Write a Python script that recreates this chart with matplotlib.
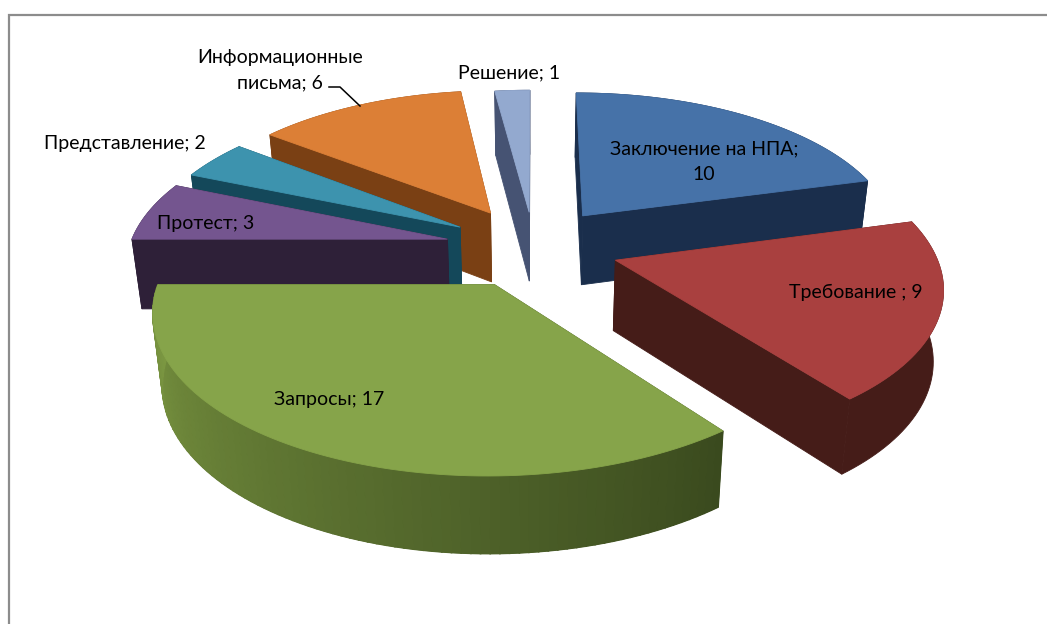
import numpy as np
import matplotlib
matplotlib.use('Agg')
import matplotlib.pyplot as plt

categories = ['Заключение на НПА', 'Требование ', 'Запросы', 'Протест',
              'Представление', 'Информационные письма', 'Решение']
values = [10, 9, 17, 3, 2, 6, 1]

top_colors = ['#4672A8', '#A9403F', '#86A44A', '#74558F', '#3D93AE', '#DC7F36', '#93A9CF']
side_colors = ['#1A2E4C', '#451C18', '#3A4A1E', '#2E2038', '#14485A', '#7A4014', '#465373']
wall_start = ['#1A2E4C', '#451C18', '#3A4A1E', '#2E2038', '#14485A', '#7A4014', '#465373']
wall_end = ['#1A2E4C', '#451C18', '#7C9842', '#2E2038', '#14485A', '#7A4014', '#465373']
explode = [0.27, 0.27, 0.27, 0.27, 0.27, 0.27, 0.24]
nudge = [1, 2, 3, 0, 2, 1, 3]
stretch = [1.0, 1.0, 1.02, 1.0, 1.0, 1.0, 1.0]
draw_order = [6, 5, 4, 3, 0, 1, 2]

# camera of the 3d pie, in pixels
X0, Y0 = 531, 247
RX, RY = 318, 150
PERSP = 0.15
DEPTH = 70
BOTTOM_SHRINK = 0.975


def project(a, b, bottom=False):
    w = 1 + PERSP * b
    x = X0 + RX * a / w
    y = Y0 - RY * b / w
    if bottom:
        x = X0 + (x - X0) * BOTTOM_SHRINK
        y = y + DEPTH / np.sqrt(w)
    return x, y


fig = plt.figure(figsize=(10.47, 6.24), dpi=100)
ax = fig.add_axes([0, 0, 1, 1])
ax.set_xlim(0, 1047)
ax.set_ylim(624, 0)
ax.axis('off')

# frame, open on the right and at the bottom
ax.plot([8.5, 8.5, 1047], [624, 15, 15], color='#8C8C8C', lw=1.6, solid_joinstyle='miter')

total = sum(values)
edges = np.cumsum([0] + values) / total * 2 * np.pi

for i in draw_order:
    t0, t1 = edges[i], edges[i + 1]
    mid = (t0 + t1) / 2
    oa = explode[i] * np.sin(mid)
    ob = explode[i] * np.cos(mid)
    n = max(int((t1 - t0) * 40), 6)
    th = np.linspace(t0, t1, n + 1)
    a = oa + stretch[i] * np.sin(th)
    b = ob + np.cos(th)
    dx = nudge[i]

    # radial side faces, far one first
    faces = []
    for p, q in [(a[0], b[0]), (a[-1], b[-1])]:
        xs = [project(oa, ob)[0], project(p, q)[0], project(p, q, True)[0], project(oa, ob, True)[0]]
        ys = [project(oa, ob)[1], project(p, q)[1], project(p, q, True)[1], project(oa, ob, True)[1]]
        faces.append(((q + ob) / 2, xs, ys))
    faces.sort(key=lambda f: -f[0])
    for _, xs, ys in faces:
        ax.fill(np.array(xs) + dx, ys, color=side_colors[i], lw=0.6)

    # outer wall in one piece, strips on top only where it has a gradient
    tx, ty = project(a, b)
    bx, by = project(a, b, True)
    ax.fill(np.r_[tx, bx[::-1]] + dx, np.r_[ty, by[::-1]], color=wall_start[i], lw=0.6)
    if wall_start[i] != wall_end[i]:
        c0 = np.array(matplotlib.colors.to_rgb(wall_start[i]))
        c1 = np.array(matplotlib.colors.to_rgb(wall_end[i]))
        for k in range(n):
            col = c0 + (c1 - c0) * (k + 0.5) / n
            ax.fill([tx[k] + dx, tx[k + 1] + dx, bx[k + 1] + dx, bx[k] + dx],
                    [ty[k], ty[k + 1], by[k + 1], by[k]], color=col, lw=1.2)

    top_x, top_y = project(np.r_[oa, a], np.r_[ob, b])
    ax.fill(top_x + dx, top_y, color=top_colors[i], lw=0.6)

font = {'family': 'Lato', 'fontsize': 14, 'color': 'black', 'ha': 'center', 'va': 'center'}

label_pos = [(704, 149), (856, 292), (329, 400), (206, 224), (125, 143), (280, 57), (509, 73)]
label_text = ['%s;\n%d' % (categories[0], values[0]),
              '%s; %d' % (categories[1], values[1]),
              '%s; %d' % (categories[2], values[2]),
              '%s; %d' % (categories[3], values[3]),
              '%s; %d' % (categories[4], values[4]),
              'Информационные\nписьма; %d' % values[5],
              '%s; %d' % (categories[6], values[6])]
for (x, y), txt in zip(label_pos, label_text):
    if '\n' in txt:
        first, second = txt.split('\n')
        ax.text(x, y, first, **font)
        ax.text(x, y + 26, second, **font)
    else:
        ax.text(x, y, txt, **font)

# leader line of the orange slice
ax.plot([329, 340, 360], [87, 87, 106], color='black', lw=1.1)

fig.savefig('out.png', dpi=100)
